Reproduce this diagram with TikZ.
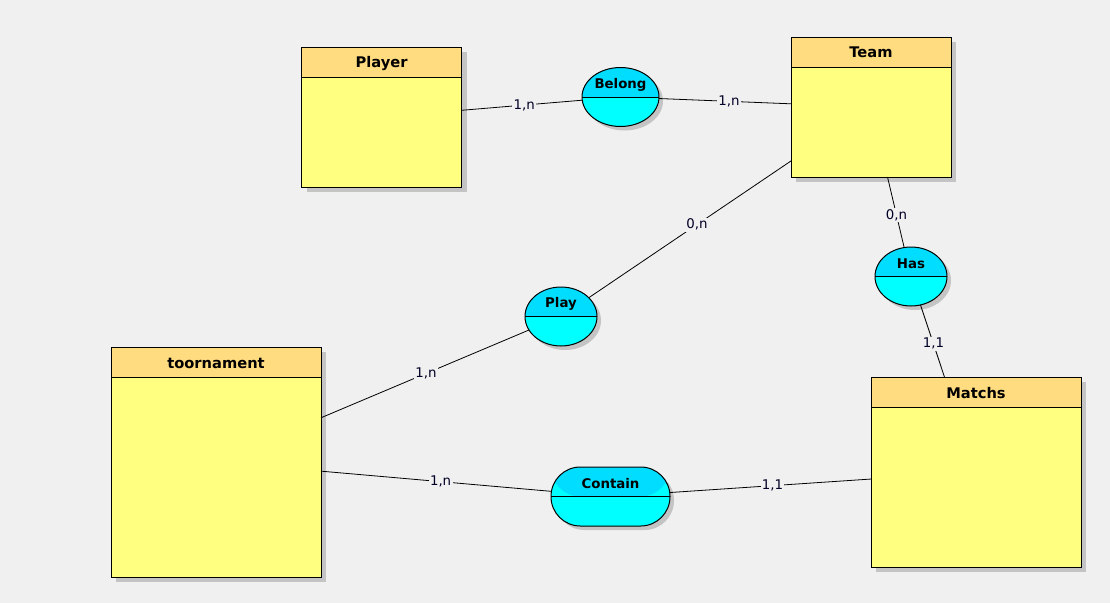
\documentclass[tikz,border=0pt]{standalone}
\usepackage{fontspec}
\setmainfont{DejaVu Sans}
\usetikzlibrary{shapes.geometric,shadows}

\definecolor{bg}{HTML}{F0F0F0}
\definecolor{enthead}{HTML}{FFDC80}
\definecolor{entbody}{HTML}{FFFF80}
\definecolor{assochead}{HTML}{00DDFF}
\definecolor{assocbody}{HTML}{00FFFF}
\definecolor{shade}{HTML}{C4C4C4}

\tikzset{
  shadowed/.style={drop shadow={shadow xshift=#1, shadow yshift=-#1, fill=shade, opacity=1}},
  entity/.style={draw, line width=0.75pt, fill=entbody, inner sep=0pt, outer sep=0pt,
    shadowed=3.9pt,
    path picture={
      \fill[enthead] (path picture bounding box.north west) rectangle
        ([yshift=-22.5pt]path picture bounding box.north east);
      \draw[line width=0.75pt] ([yshift=-22.5pt]path picture bounding box.north west) --
        ([yshift=-22.5pt]path picture bounding box.north east);
    }},
  assoc/.style={draw, line width=0.75pt, fill=assocbody, inner sep=0pt, outer sep=0pt,
    minimum height=44.25pt, shadowed=3pt,
    path picture={
      \fill[assochead] (path picture bounding box.north west) rectangle
        (path picture bounding box.east);
      \draw[line width=0.75pt] (path picture bounding box.west) --
        (path picture bounding box.east);
    }},
  oval/.style={assoc, ellipse},
  pill/.style={assoc, rectangle, rounded corners=22pt},
  enttitle/.style={font=\bfseries\fontsize{11pt}{12pt}\selectfont, anchor=center, label distance=0pt},
  assoctitle/.style={font=\bfseries\fontsize{10pt}{11pt}\selectfont, anchor=center, label distance=0pt},
  card/.style={font=\fontsize{10pt}{12pt}\selectfont, fill=bg, inner sep=1pt, text=black!85!blue},
  link/.style={line width=0.6pt}
}

\begin{document}
\begin{tikzpicture}[x=0.75pt, y=-0.75pt]
  \fill[bg] (0,0) rectangle (1110,603);

  % entities
  \node[entity, minimum width=120pt, minimum height=105pt,
        label={[enttitle, yshift=-12.6pt]north:Player}] (player) at (381.5,117) {};
  \node[entity, minimum width=120pt, minimum height=105pt,
        label={[enttitle, yshift=-11.8pt]north:Team}] (team) at (871,107) {};
  \node[entity, minimum width=157.5pt, minimum height=172.5pt,
        label={[enttitle, yshift=-12.3pt]north:toornament}] (tourn) at (216,462) {};
  \node[entity, minimum width=157.5pt, minimum height=142.5pt,
        label={[enttitle, yshift=-12.3pt]north:Matchs}] (matchs) at (976,472) {};

  % associations
  \node[oval, minimum width=57.75pt,
        label={[assoctitle, yshift=-12.8pt]north:Belong}] (belong) at (620.5,97) {};
  \node[oval, minimum width=54pt,
        label={[assoctitle, yshift=-12.3pt]north:Play}] (play) at (561,316.5) {};
  \node[oval, minimum width=54pt,
        label={[assoctitle, yshift=-12.3pt]north:Has}] (has) at (911,276.5) {};
  \node[pill, minimum width=89.25pt,
        label={[assoctitle, yshift=-12.3pt]north:Contain}] (contain) at (610.5,496.5) {};

  % links with their cardinalities
  \draw[link] (player) -- node[card, pos=.52] (c1) {1,n} (belong);
  \draw[link] (belong) -- node[card, pos=.53] (c2) {1,n} (team);
  \draw[link] (team) -- node[card, pos=.465] (c3) {0,n} (play);
  \draw[link] (team) -- node[card, pos=.54] (c4) {0,n} (has);
  \draw[link] (has) -- node[card, pos=.54] (c5) {1,1} (matchs);
  \draw[link] (play) -- node[card, pos=.495] (c6) {1,n} (tourn);
  \draw[link] (tourn) -- node[card, pos=.52] (c7) {1,n} (contain);
  \draw[link] (contain) -- node[card, pos=.51] (c8) {1,1} (matchs);
\end{tikzpicture}
\end{document}
